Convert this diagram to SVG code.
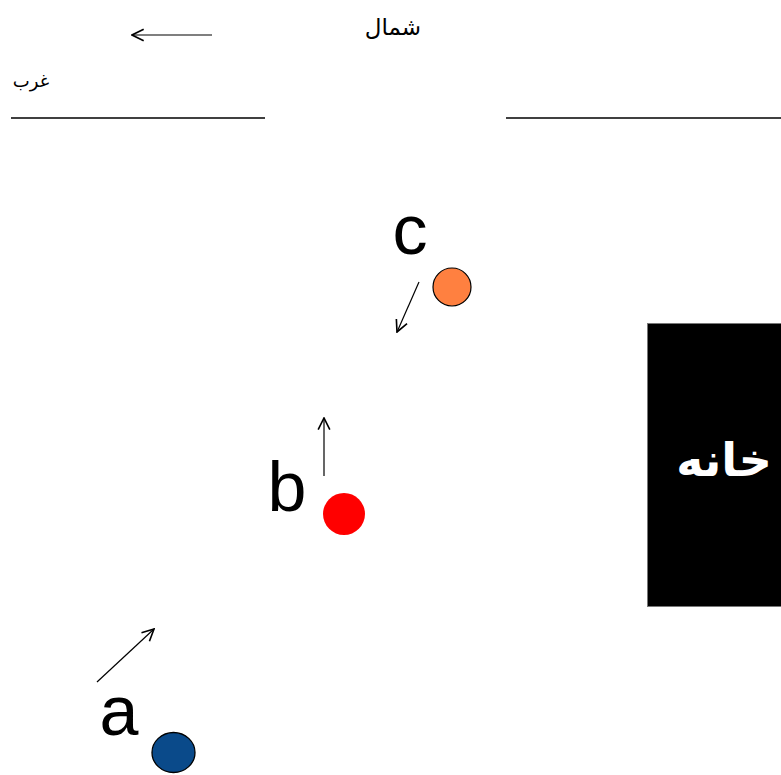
<svg xmlns="http://www.w3.org/2000/svg" width="781" height="775" viewBox="0 0 781 775">
  <defs>
    <marker id="vhead" viewBox="0 0 12 12" refX="11" refY="6" markerWidth="14" markerHeight="14" markerUnits="userSpaceOnUse" orient="auto">
      <path d="M1,1 L11,6 L1,11" fill="none" stroke="#000" stroke-width="1.4"/>
    </marker>
  </defs>
  <style>
    .ln { stroke: #000; stroke-width: 1.3; fill: none; }
    .arr { stroke: #000; stroke-width: 1.2; fill: none; marker-end: url(#vhead); }
    .lbl { font-family: "Liberation Sans", Arial, sans-serif; fill: #000; font-size: 70px; text-anchor: middle; }
    .fa { font-family: "DejaVu Sans", "Noto Sans", sans-serif; fill: #000; text-anchor: middle; }
  </style>
  <rect width="781" height="775" fill="#fff"/>

  <!-- compass / street edges -->
  <g id="compass">
    <line class="arr" x1="212" y1="35" x2="132" y2="35"/>
    <text class="fa" x="393" y="35" font-size="23" direction="rtl">شمال</text>
    <text class="fa" x="31" y="87" font-size="18" direction="rtl">غرب</text>
    <line class="ln" x1="11" y1="118" x2="265" y2="118"/>
    <line class="ln" x1="506" y1="118" x2="781" y2="118"/>
  </g>

  <g id="house">
    <rect x="647.5" y="323.5" width="140" height="283" fill="#000" stroke="#777" stroke-width="1"/>
    <text x="724" y="476" font-family="DejaVu Sans, sans-serif" font-weight="bold" font-size="46" fill="#fff" text-anchor="middle" direction="rtl">خانه</text>
  </g>

  <g id="connectors">
    <line class="arr" x1="419" y1="282" x2="397" y2="332"/>
    <line class="arr" x1="324" y1="476" x2="324" y2="418"/>
    <line class="arr" x1="97" y1="682" x2="154" y2="629"/>
  </g>

  <g id="node-c">
    <text class="lbl" x="410" y="254">c</text>
    <circle cx="452" cy="287" r="19" fill="#ff8040" stroke="#000" stroke-width="1.2"/>
  </g>

  <g id="node-b">
    <text class="lbl" x="287" y="511">b</text>
    <circle cx="344" cy="514" r="21" fill="#ff0000"/>
  </g>

  <g id="node-a">
    <text class="lbl" x="119" y="735">a</text>
    <ellipse cx="173.5" cy="752.5" rx="21.5" ry="20" fill="#0a4a8a" stroke="#000" stroke-width="1.3"/>
  </g>
</svg>
